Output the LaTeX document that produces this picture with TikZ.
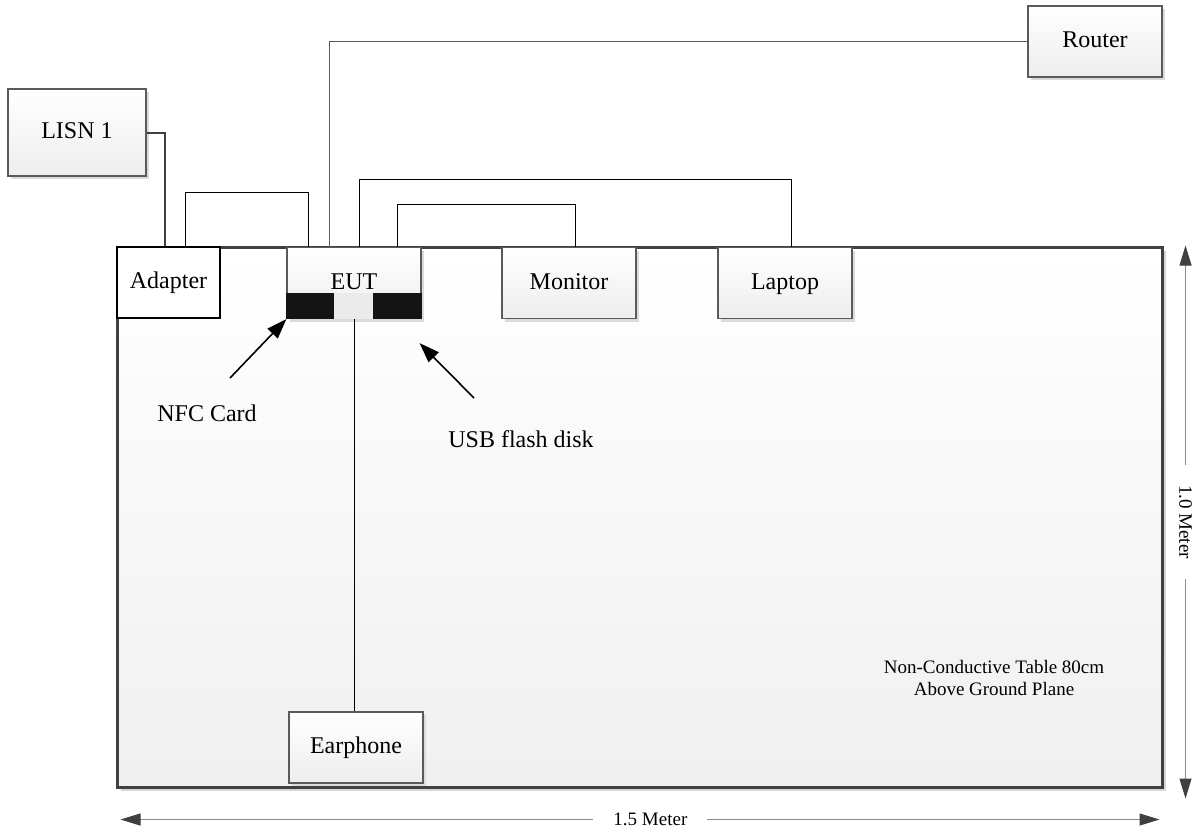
\documentclass[tikz,border=0pt]{standalone}
\usepackage{fontspec}
\setmainfont{Liberation Serif}
\usetikzlibrary{arrows.meta,shadows}
\definecolor{boxline}{HTML}{5A5A5A}
\definecolor{deskline}{HTML}{404040}
\tikzstyle{device}=[draw=boxline,line width=0.6pt,top color=white,bottom color=black!7,minimum width=67pt,minimum height=35.5pt,inner sep=0pt,text height=8.5pt,text depth=2.5pt,font=\fontsize{12}{14}\selectfont,drop shadow={shadow xshift=1.5pt,shadow yshift=-1.5pt,fill=black!14,opacity=1}]
\tikzstyle{adapter}=[draw=black,line width=1pt,fill=white,minimum width=51.5pt,minimum height=35.5pt,inner sep=0pt,text height=8.5pt,text depth=2.5pt,font=\fontsize{12}{14}\selectfont]
\tikzstyle{desk}=[draw=deskline,line width=1.5pt,top color=white,bottom color=black!6,minimum width=522.5pt,minimum height=270pt,inner sep=0pt,drop shadow={shadow xshift=2pt,shadow yshift=-2pt,fill=black!16,opacity=1}]
\tikzstyle{wire} = [draw,line width=0.5pt,-]
\tikzstyle{pointer} = [draw,line width=0.8pt,-{Triangle[length=10pt,width=7pt]}]
\tikzstyle{dim} = [draw=black!45,line width=0.5pt,{Triangle[length=10pt,width=6pt,color=black!75]}-{Triangle[length=10pt,width=6pt,color=black!75]}]
\tikzstyle{dimtext} = [fill=white,inner xsep=10pt,inner ysep=1pt,font=\fontsize{9.5}{11}\selectfont]
\tikzstyle{tag} = [font=\fontsize{12}{14}\selectfont]

\begin{document}
\begin{tikzpicture}[x=0.5pt,y=-0.5pt]
    \useasboundingbox (0,0) rectangle (1202,831);
    % Draw the table first
    \node[desk] (Table) at (639.5,517) {};
    \node[align=center,font=\fontsize{9.5}{11}\selectfont] (Note) at (994,678) {Non-Conductive Table 80cm\\Above Ground Plane};
    % Then the devices on and beside it
    \foreach \pos/\name/\txt in {{(354,283)/EUT/EUT}, {(569,283)/Monitor/Monitor}, {(785,283)/Laptop/Laptop}, {(1095,41.5)/Router/Router}, {(356,747.5)/Earphone/Earphone}}
        \node[device] (\name) at \pos {\txt};
    \node[device,minimum width=69pt,minimum height=43.5pt] (LISN) at (77,132.5) {LISN 1};
    \node[adapter] (Adapter) at (168.5,282.5) {Adapter};
    % NFC card and USB flash disk in the EUT
    \fill[black!8] ([xshift=24pt]EUT.south west) rectangle ([xshift=-24.5pt,yshift=13pt]EUT.south east);
    \fill[black!92] (EUT.south west) rectangle ([xshift=24pt,yshift=13pt]EUT.south west);
    \fill[black!92] ([xshift=-24.5pt]EUT.south east) rectangle ([yshift=13pt]EUT.south east);
    % Connect the devices with cables
    \path[wire,draw=black!75,line width=1pt] (LISN.east) -| ([xshift=24.5pt]Adapter.north west);
    \path[wire] ([xshift=34.5pt]Adapter.north west) -- ++(0,-54) -| ([xshift=11pt]EUT.north west);
    \path[wire,draw=boxline] ([xshift=21.5pt]EUT.north west) |- (Router.west);
    \path[wire] ([xshift=36.5pt]EUT.north west) -- ++(0,-67) -| ([xshift=37pt]Laptop.north west);
    \path[wire] ([xshift=55.5pt]EUT.north west) -- ++(0,-42) -| ([xshift=37pt]Monitor.north west);
    \path[wire] (EUT.south) -- (EUT.south |- Earphone.north);
    % Labels with their arrows
    \node[tag] (NFC) at (207,413) {NFC Card};
    \node[tag] (USB) at (521,439) {USB flash disk};
    \coordinate (nfctail) at (230,378);
    \coordinate (usbtail) at (474,398);
    \path[pointer] (nfctail) -- (EUT.south west);
    \path[pointer] (usbtail) -- ([xshift=-1pt,yshift=-12pt]EUT.south east);
    % Size of the table
    \path[dim] ([xshift=11pt]Table.north east) -- ([xshift=11pt,yshift=-5pt]Table.south east) node[dimtext,midway,rotate=-90] {1.0 Meter};
    \path[dim] ([xshift=2.5pt,yshift=-15.5pt]Table.south west) -- ([xshift=-2pt,yshift=-15.5pt]Table.south east) node[dimtext,pos=0.51] {1.5 Meter};
\end{tikzpicture}
\end{document}
